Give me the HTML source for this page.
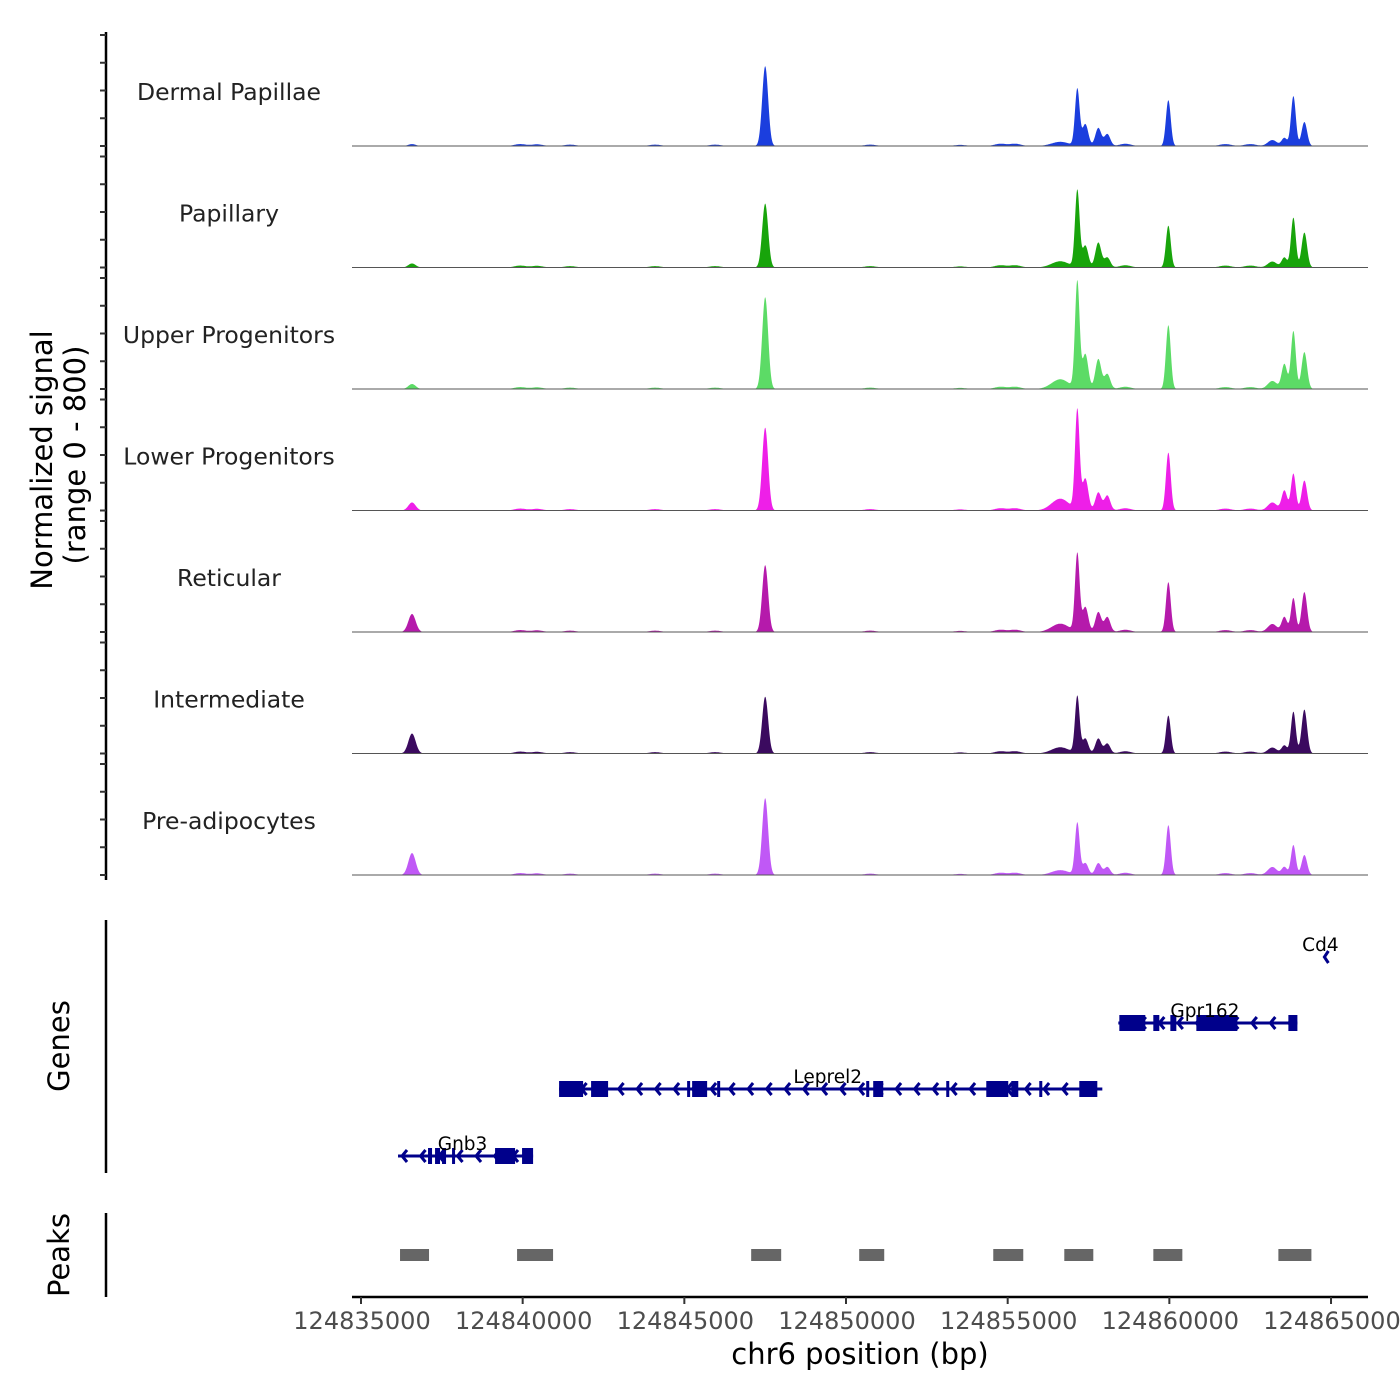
<!DOCTYPE html>
<html><head><meta charset="utf-8"><style>
body{margin:0;background:#fff}
svg{display:block;font-family:"DejaVu Sans","Liberation Sans",sans-serif}
</style></head><body>
<svg id="chart" width="1400" height="1400" viewBox="0 0 1400 1400">
<rect width="1400" height="1400" fill="#fff"/>
<g id="tracks"></g>
<g id="yaxis"></g>
<g id="genes"></g>
<g id="peaks"></g>
<g id="xaxis"></g>
<text transform="translate(52,460) rotate(-90)" text-anchor="middle" font-size="29">Normalized signal</text>
<text transform="translate(85,455) rotate(-90)" text-anchor="middle" font-size="29">(range 0 - 800)</text>
<text transform="translate(69,1046) rotate(-90)" text-anchor="middle" font-size="29">Genes</text>
<text transform="translate(69,1255) rotate(-90)" text-anchor="middle" font-size="29">Peaks</text>
<text x="860" y="1364" text-anchor="middle" font-size="29">chr6 position (bp)</text>
</svg>
<script>
const START = 124835000;
const trackNames = ["Dermal Papillae","Papillary","Upper Progenitors","Lower Progenitors","Reticular","Intermediate","Pre-adipocytes"];
const trackColors = ["#1b3ede","#18a40b","#5cdb66","#ee1fe8","#b51aab","#3b0a5f","#c058f6"];
// feature centers (bp offset from 124835000) and widths
const featPos = [1578,12500,22153,22401,22803,23081,21627,24969,28836,28558,29176,28186];
const featWid = [160,130,100,130,130,130,380,105,105,120,120,200];
const sigDP  = [14,576,410,158,130,86,30,331,360,58,173,43];
const sigPap = [29,461,554,158,180,72,45,302,360,72,252,43];
const sigUp  = [36,662,770,252,216,108,70,461,418,180,266,58];
const sigLow = [58,598,720,230,130,108,85,418,266,144,216,58];
const sigRet = [130,482,562,180,144,108,60,360,245,108,288,58];
const sigInt = [144,410,410,108,108,72,45,274,302,58,317,43];
const sigPre = [158,554,374,86,86,58,35,360,216,58,144,58];
const trackValues = [sigDP,sigPap,sigUp,sigLow,sigRet,sigInt,sigPre];
// small background bumps
const bumpPos = [4920,5445,6466,9096,10953,15749,18533,19771,20235,23638,26732,27505];
const bumpVal = [14,12,10,10,10,10,8,16,16,16,14,14];
const xTicks = [124835000,124840000,124845000,124850000,124855000,124860000,124865000];
const xTickLabels = ["124835000","124840000","124845000","124850000","124855000","124860000","124865000"];
const geneNames = ["Gnb3","Leprel2","Gpr162","Cd4"];
const geneStart = [1145,6126,23422,29795];
const geneEnd = [5322,22927,28960,30050];
const geneRowY = [1156,1089,1023,957];
const geneExons = [
 [[2073,2197],[2290,2444],[2506,2630],[2816,2908],[4146,4765],[4981,5322]],
 [[6126,6869],[7116,7642],[10086,10179],[10241,10705],[11015,11108],[15625,15718],[15841,16151],[18100,18193],[19338,20018],[20111,20328],[20977,21070],[22215,22772]],
 [[23453,24257],[24504,24690],[25031,25216],[25835,27103],[28681,28960]],
 []
];
const peakStart = [1207,4827,12067,15408,19554,21751,24505,28372];
const peakEnd = [2104,5940,12995,16182,20482,22648,25402,29393];

const NS="http://www.w3.org/2000/svg";
function mk(tag,attrs,parent){const e=document.createElementNS(NS,tag);for(const k in attrs)e.setAttribute(k,attrs[k]);parent.appendChild(e);return e;}
const xScale = off => 361 + off*0.032334;
const xScaleAbs = bp => xScale(bp-START);
const trackBase = [146,267.5,389,510.5,632,753.5,875];
const yUnit = 111/800;

const tracksG=document.getElementById('tracks');
trackNames.forEach((name,t)=>{
  const base=trackBase[t], vals=trackValues[t];
  let pts=[];
  for(let px=400;px<=1323;px+=0.5){
    const off=(px-361)/0.032334;
    let v=0;
    featPos.forEach((c,i)=>{const d=(off-c)/featWid[i];v+=vals[i]*Math.exp(-d*d);});
    bumpPos.forEach((c,i)=>{const d=(off-c)/250;v+=bumpVal[i]*Math.exp(-d*d);});
    pts.push(px.toFixed(1)+','+(base-Math.min(v,800)*yUnit).toFixed(1));
  }
  const area=mk('polygon',{points:'400,'+base+' '+pts.join(' ')+' 1323,'+base,fill:trackColors[t]},tracksG);
  
  
  const bl=mk('line',{x1:352,x2:1368,y1:base,y2:base,stroke:'#555','stroke-width':1},tracksG);
  
  
  const lab=mk('text',{x:229,y:base-46,'text-anchor':'middle','font-size':23.5,fill:'#222'},tracksG);
  lab.textContent=name;
  
  
});

const yG=document.getElementById('yaxis');
mk('line',{x1:106,x2:106,y1:32,y2:880,stroke:'#000','stroke-width':2.5},yG);
trackBase.forEach(b=>{for(let k=0;k<=4;k++){mk('line',{x1:100,x2:106,y1:b-k*27.75,y2:b-k*27.75,stroke:'#333','stroke-width':2},yG);}});
mk('line',{x1:106,x2:106,y1:920,y2:1173,stroke:'#000','stroke-width':2.5},yG);
mk('line',{x1:106,x2:106,y1:1213,y2:1297,stroke:'#000','stroke-width':2.5},yG);

const gG=document.getElementById('genes');
const C='#00008b';
geneNames.forEach((g,i)=>{
  const y=geneRowY[i], x1=xScale(geneStart[i]), x2=xScale(geneEnd[i]);
  const grp=mk('g',{},gG);
  
  
  if(geneExons[i].length){
    mk('line',{x1:x1,x2:x2,y1:y,y2:y,stroke:C,'stroke-width':3},grp);
    for(let cx=x1+4;cx<x2-4;cx+=18.5){
      mk('polyline',{points:(cx+5)+','+(y-6)+' '+cx+','+y+' '+(cx+5)+','+(y+6),fill:'none',stroke:C,'stroke-width':3},grp);
    }
    geneExons[i].forEach(e=>{const a=xScale(e[0]),b=xScale(e[1]);mk('rect',{x:a,y:y-8,width:Math.max(b-a,3),height:16,fill:C},grp);});
  } else {
    mk('polyline',{points:(x1+4)+','+(y-6)+' '+x1+','+y+' '+(x1+4)+','+(y+6),fill:'none',stroke:C,'stroke-width':3},grp);
  }
  const t=mk('text',{x:(x1+x2)/2-3,y:y-6,'text-anchor':'middle','font-size':18.5,fill:'#000'},grp);
  if(i===3) t.setAttribute('x',x1-4);
  t.textContent=g;
});

const pG=document.getElementById('peaks');
peakStart.forEach((s,i)=>{
  const r=mk('rect',{x:xScale(s),y:1249,width:xScale(peakEnd[i])-xScale(s),height:12,fill:'#666'},pG);
  
  
});

const xG=document.getElementById('xaxis');
mk('line',{x1:352,x2:1368,y1:1297,y2:1297,stroke:'#000','stroke-width':2.5},xG);
xTicks.forEach((v,i)=>{
  const x=xScaleAbs(v);
  mk('line',{x1:x,x2:x,y1:1297,y2:1304,stroke:'#333','stroke-width':2},xG);
  const t=mk('text',{x:x+1,y:1329,'text-anchor':'middle','font-size':24,fill:'#4d4d4d'},xG);
  t.textContent=xTickLabels[i];
  
  
});
</script>
</body></html>
